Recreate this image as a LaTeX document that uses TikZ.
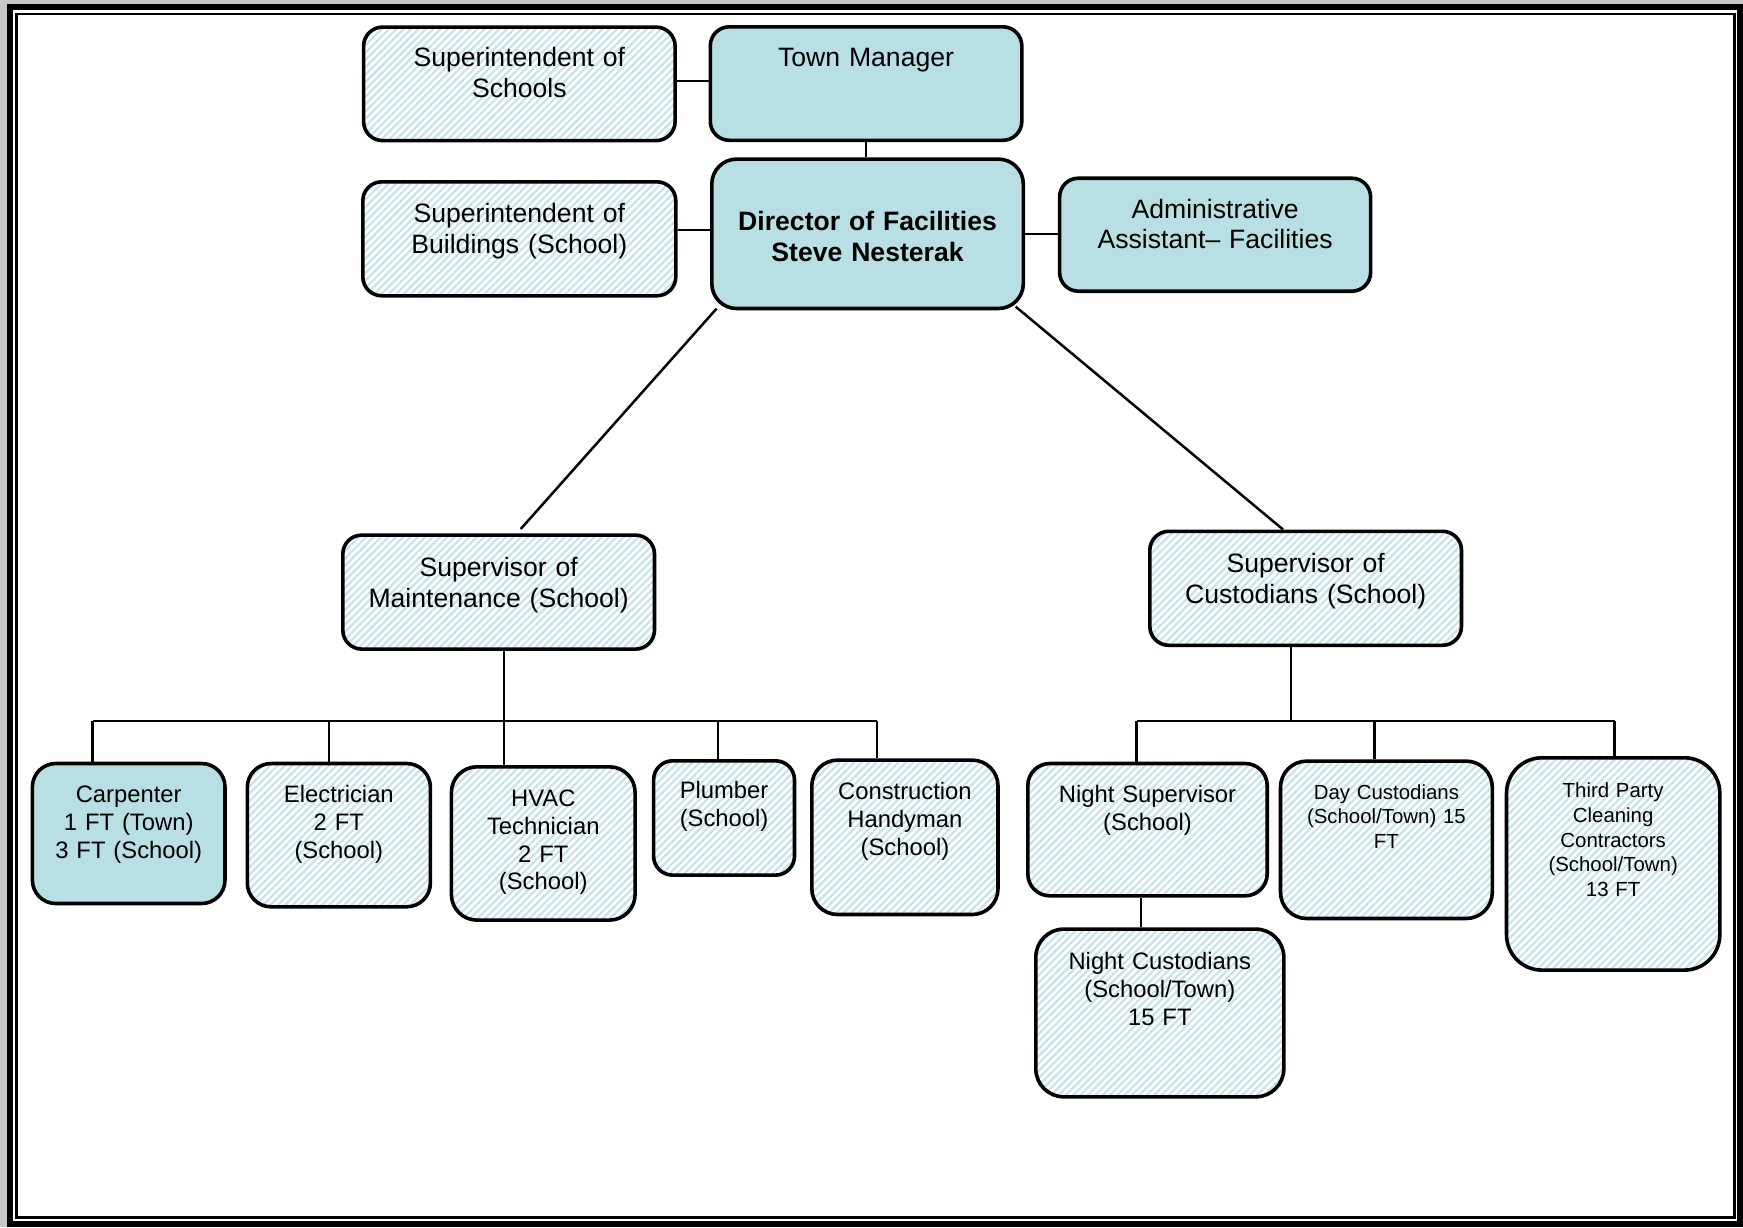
\documentclass[tikz,border=0pt]{standalone}
\usepackage{fontspec}
\setmainfont{Liberation Sans}
\usetikzlibrary{patterns.meta}

\definecolor{tealfill}{HTML}{B8DFE3}
\definecolor{hatchline}{HTML}{C4E4E9}
\definecolor{pagegray}{HTML}{C8C8C8}

\tikzset{
  orgbox/.style={draw=black, line width=1.8pt, inner sep=0pt, anchor=north west,
                 align=center, text=black},
  solidbox/.style={orgbox, fill=tealfill},
  hatchbox/.style={orgbox, pattern={Lines[angle=45,distance=2.6pt,line width=1.1pt]},
                   pattern color=hatchline},
  bigtext/.style={font=\fontsize{13.3pt}{15.3pt}\selectfont},
  boldtext/.style={font=\fontsize{13.3pt}{15.5pt}\selectfont\bfseries},
  midtext/.style={font=\fontsize{11.9pt}{13.9pt}\selectfont},
  smalltext/.style={font=\fontsize{10.2pt}{12.3pt}\selectfont},
  conn/.style={draw=black, line width=1.25pt},
}

\begin{document}
\begin{tikzpicture}[x=0.5pt, y=-0.5pt]
  \useasboundingbox (0,0) rectangle (1743,1227);

  % page frame: thick outer rule and thin inner rule
  \fill[pagegray] (0,0) rectangle (1743,1227);
  \draw[line width=3pt, fill=white] (10,6.5) rectangle (1740,1223.5);
  \draw[line width=1.35pt] (16.5,14) rectangle (1734.7,1217.4);

  % top level
  \node[hatchbox, bigtext, text width=155.75pt, text height=19.85pt, text depth=36.9pt,
        rounded corners=9.5pt] (ss) at (362.5,26) {Superintendent of\\Schools};
  \node[solidbox, bigtext, text width=155.75pt, text height=20pt, text depth=36.75pt,
        rounded corners=9.5pt] (tm) at (708.5,25) {Town Manager};
  \node[hatchbox, bigtext, text width=156.5pt, text height=20.35pt, text depth=36.65pt,
        rounded corners=9.5pt] (sb) at (361,180) {Superintendent of\\Buildings (School)};
  \node[solidbox, boldtext, text width=155.75pt, text height=35.85pt, text depth=38.85pt,
        rounded corners=12.45pt] (dir) at (710,157.3) {Director of Facilities\\Steve Nesterak};
  \node[solidbox, bigtext, text width=155.5pt, text height=20pt, text depth=36.5pt,
        rounded corners=9.4pt] (adm) at (1057.8,176.4) {Administrative\\Assistant– Facilities};

  % supervisors
  \node[hatchbox, bigtext, text width=155.85pt, text height=20.85pt, text depth=36.15pt,
        rounded corners=9.5pt] (sm) at (341,533.3) {Supervisor of\\Maintenance (School)};
  \node[hatchbox, bigtext, text width=155.85pt, text height=20.75pt, text depth=36.25pt,
        rounded corners=9.5pt] (sc) at (1148,529.5) {Supervisor of\\Custodians (School)};

  % maintenance staff
  \node[solidbox, midtext, text width=96.3pt, text height=19.5pt, text depth=50.5pt,
        rounded corners=11.7pt] (carp) at (30.6,761.7) {Carpenter\\1 FT (Town)\\3 FT (School)};
  \node[hatchbox, midtext, text width=91.55pt, text height=19.5pt, text depth=52.15pt,
        rounded corners=11.9pt] (elec) at (245.5,761.7) {Electrician\\2 FT\\(School)};
  \node[hatchbox, midtext, text width=91.85pt, text height=19.85pt, text depth=56.8pt,
        rounded corners=12.8pt] (hvac) at (449.6,765) {HVAC\\Technician\\2 FT\\(School)};
  \node[hatchbox, midtext, text width=70.45pt, text height=19pt, text depth=38.15pt,
        rounded corners=9.5pt] (plmb) at (651.8,759) {Plumber\\(School)};
  \node[hatchbox, midtext, text width=93.1pt, text height=19.85pt, text depth=57.35pt,
        rounded corners=12.9pt] (cons) at (810,758.3) {Construction\\Handyman\\(School)};

  % custodial staff
  \node[hatchbox, midtext, text width=119.7pt, text height=19.5pt, text depth=46.65pt,
        rounded corners=11pt] (nsup) at (1026,761.7) {Night Supervisor\\(School)};
  \node[hatchbox, midtext, text width=124pt, text height=20.35pt, text depth=63.5pt,
        rounded corners=14pt] (ncus) at (1034,927.3) {Night Custodians\\(School/Town)\\15 FT};
  \node[hatchbox, smalltext, text width=105.9pt, text height=19pt, text depth=59.7pt,
        rounded corners=13.1pt] (dcus) at (1278.7,759.3) {Day Custodians\\(School/Town) 15\\FT};
  \node[hatchbox, smalltext, text width=106.65pt, text height=20pt, text depth=86.15pt,
        rounded corners=17.7pt] (tpc) at (1504.7,756) {Third Party\\Cleaning\\Contractors\\(School/Town)\\13 FT};

  % top-level links
  \draw[conn] ([yshift=1.4pt]ss.east) -- ([yshift=1.4pt]ss.east -| tm.west);
  \draw[conn] (tm.south) -- (tm.south |- dir.north);
  \draw[conn] ([yshift=1.85pt]dir.west) -- ([yshift=1.85pt]dir.west -| sb.east);
  \draw[conn] (dir.east) -- (dir.east -| adm.west);

  % director to supervisors
  \draw[conn] ([xshift=3.3pt,yshift=0.85pt]dir.south west) -- ([xshift=89.85pt,yshift=2.15pt]sm.north west);
  \draw[conn] ([xshift=-4.75pt,yshift=1.85pt]dir.south east) -- ([xshift=67.5pt]sc.north west);

  % maintenance branch
  \coordinate (lb)  at (504,721);
  \coordinate (lb1) at (92.5,721);
  \coordinate (lb2) at (329,721);
  \coordinate (lb4) at (718,721);
  \coordinate (lb5) at (877,721);
  \draw[conn] (sm.south -| lb) -- (hvac.north -| lb);
  \draw[conn] (lb1) -- (lb5);
  \draw[conn] (lb1) -- (lb1 |- carp.north);
  \draw[conn] (lb2) -- (lb2 |- elec.north);
  \draw[conn] (lb4) -- (lb4 |- plmb.north);
  \draw[conn] (lb5) -- (lb5 |- cons.north);

  % custodial branch
  \coordinate (rb)  at (1291,721);
  \coordinate (rb1) at (1136.5,721);
  \coordinate (rb2) at (1374.4,721);
  \coordinate (rb3) at (1614.7,721);
  \coordinate (nc)  at (1140.8,900);
  \draw[conn] (sc.south -| rb) -- (rb);
  \draw[conn] (rb1) -- (rb3);
  \draw[conn] (rb1) -- (rb1 |- nsup.north);
  \draw[conn] (rb2) -- (rb2 |- dcus.north);
  \draw[conn] (rb3) -- (rb3 |- tpc.north);
  \draw[conn] (nsup.south -| nc) -- (ncus.north -| nc);
\end{tikzpicture}
\end{document}
